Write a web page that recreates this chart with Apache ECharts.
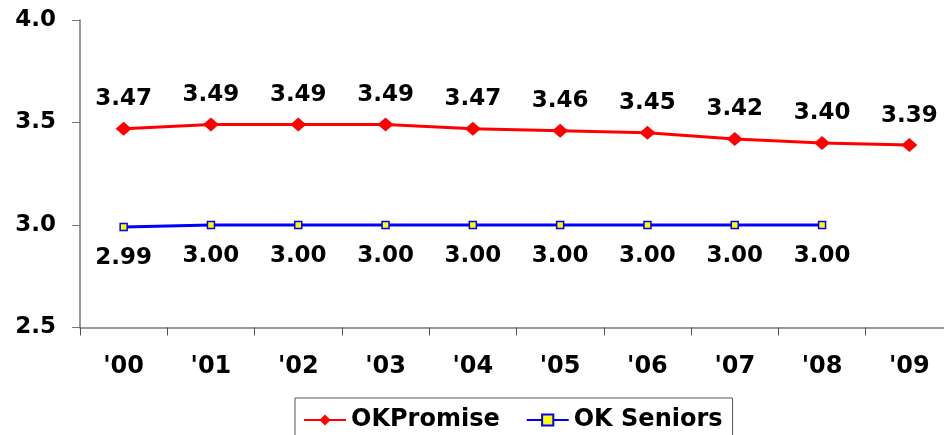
<!DOCTYPE html>
<html>
<head>
<meta charset="utf-8">
<script src="https://cdn.jsdelivr.net/npm/echarts@6/dist/echarts.min.js"></script>
<style>
	html, body { margin: 0; padding: 0; background: #fff; overflow: hidden; }
	#chart { width: 960px; height: 435px; }
</style>
</head>
<body>
<div id="chart"></div>
<script>
	const years = ["'00", "'01", "'02", "'03", "'04", "'05", "'06", "'07", "'08", "'09"];
	const okPromise = [3.47, 3.49, 3.49, 3.49, 3.47, 3.46, 3.45, 3.42, 3.40, 3.39];
	const okSeniors = [2.99, 3.00, 3.00, 3.00, 3.00, 3.00, 3.00, 3.00, 3.00, null];

	const font = 'DejaVu Sans';

	// the plot runs a little past the right edge of the window, as in the original
	let chart = echarts.init(document.getElementById('chart'));
	chart.setOption({
		animation: false,
		backgroundColor: '#fff',
		textStyle: { fontFamily: font },
		grid: { left: 80, top: 20, width: 873, height: 307.5 },
		legend: {
			left: 295,
			top: 398,
			padding: [10, 10, 20, 8],
			borderColor: '#555',
			borderWidth: 1,
			itemWidth: 42,
			itemHeight: 14,
			itemGap: 26,
			textStyle: { fontFamily: font, fontWeight: 'bold', fontSize: 24, color: '#000' },
			data: ['OKPromise', 'OK Seniors']
		},
		xAxis: {
			type: 'category',
			data: years,
			boundaryGap: true,
			axisLine: { lineStyle: { color: '#777', width: 1.5 } },
			axisTick: { show: true, length: 8, lineStyle: { color: '#555' } },
			axisLabel: { color: '#000', fontWeight: 'bold', fontSize: 24, margin: 27 }
		},
		yAxis: {
			type: 'value',
			min: 2.5,
			max: 4.0,
			interval: 0.5,
			axisLine: { show: true, lineStyle: { color: '#777', width: 1.5 } },
			axisTick: { show: true, length: 8, lineStyle: { color: '#777' } },
			splitLine: { show: false },
			axisLabel: {
				color: '#000', fontWeight: 'bold', fontSize: 23, margin: 24,
				formatter: v => v.toFixed(1)
			}
		},
		series: [
			{
				name: 'OKPromise',
				type: 'line',
				data: okPromise,
				color: '#ff0000',
				lineStyle: { width: 3 },
				symbol: 'diamond',
				symbolSize: [16, 14],
				itemStyle: { color: '#ff0000' },
				label: {
					show: true, position: 'top', distance: 11,
					color: '#000', fontWeight: 'bold', fontSize: 23,
					formatter: p => p.value.toFixed(2)
				}
			},
			{
				name: 'OK Seniors',
				type: 'line',
				data: okSeniors,
				color: '#0000ff',
				lineStyle: { width: 3, color: '#0000ff' },
				symbol: 'rect',
				symbolSize: 7,
				itemStyle: { color: '#ffff00', borderColor: '#0000ff', borderWidth: 1.5 },
				label: {
					show: true, position: 'bottom', distance: 15,
					color: '#000', fontWeight: 'bold', fontSize: 23,
					formatter: p => p.value.toFixed(2)
				}
			}
		]
	});
</script>
</body>
</html>
